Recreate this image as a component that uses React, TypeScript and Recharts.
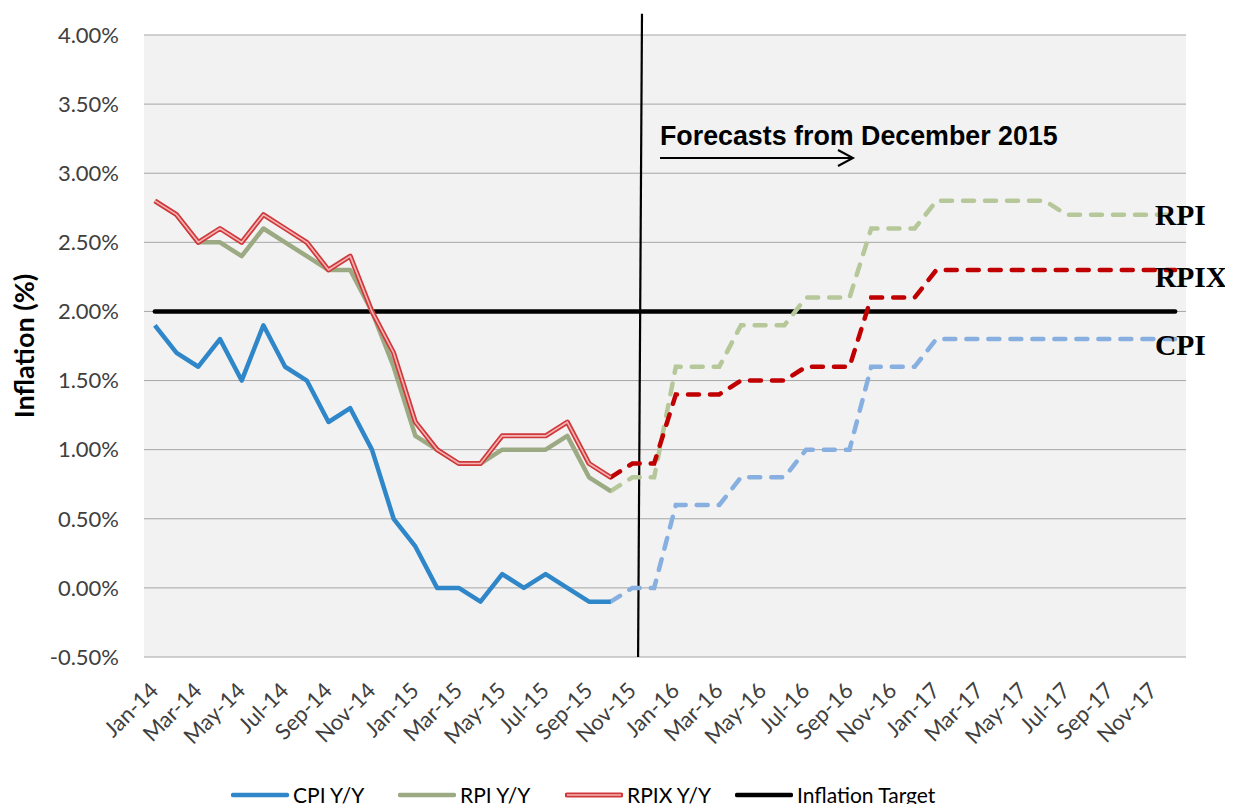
import React from 'react';
import { LineChart, Line, XAxis, YAxis, CartesianGrid, ReferenceLine } from 'recharts';

const monthNames = ['Jan', 'Feb', 'Mar', 'Apr', 'May', 'Jun', 'Jul', 'Aug', 'Sep', 'Oct', 'Nov', 'Dec'];
const years = ['14', '15', '16', '17'];
const months = years.flatMap((y) => monthNames.map((m) => `${m}-${y}`));

// Outturn, Jan-14 to Oct-15
const cpiActual = [1.9, 1.7, 1.6, 1.8, 1.5, 1.9, 1.6, 1.5, 1.2, 1.3, 1.0, 0.5, 0.3, 0.0, 0.0, -0.1, 0.1, 0.0, 0.1, 0.0, -0.1, -0.1];
const rpiActual = [2.8, 2.7, 2.5, 2.5, 2.4, 2.6, 2.5, 2.4, 2.3, 2.3, 2.0, 1.6, 1.1, 1.0, 0.9, 0.9, 1.0, 1.0, 1.0, 1.1, 0.8, 0.7];
const rpixActual = [2.8, 2.7, 2.5, 2.6, 2.5, 2.7, 2.6, 2.5, 2.3, 2.4, 2.0, 1.7, 1.2, 1.0, 0.9, 0.9, 1.1, 1.1, 1.1, 1.2, 0.9, 0.8];

// Forecast path, Oct-15 to Dec-17
const forecastStart = 21;
const cpiForecast = [-0.1, 0.0, 0.0, 0.6, 0.6, 0.6, 0.8, 0.8, 0.8, 1.0, 1.0, 1.0, 1.6, 1.6, 1.6, 1.8, 1.8, 1.8, 1.8, 1.8, 1.8, 1.8, 1.8, 1.8, 1.8, 1.8, 1.8];
const rpiForecast = [0.7, 0.8, 0.8, 1.6, 1.6, 1.6, 1.9, 1.9, 1.9, 2.1, 2.1, 2.1, 2.6, 2.6, 2.6, 2.8, 2.8, 2.8, 2.8, 2.8, 2.8, 2.7, 2.7, 2.7, 2.7, 2.7, 2.7];
const rpixForecast = [0.8, 0.9, 0.9, 1.4, 1.4, 1.4, 1.5, 1.5, 1.5, 1.6, 1.6, 1.6, 2.1, 2.1, 2.1, 2.3, 2.3, 2.3, 2.3, 2.3, 2.3, 2.3, 2.3, 2.3, 2.3, 2.3, 2.3];

const inflationTarget = 2.0;
const yTicks = [-0.5, 0, 0.5, 1, 1.5, 2, 2.5, 3, 3.5, 4];
const xTicks = months.map((_, i) => i).filter((i) => i % 2 === 0);

const pick = (arr: number[], i: number, start = 0) =>
  i >= start && i - start < arr.length ? arr[i - start] : null;

const data = months.map((month, i) => ({
  i,
  month,
  cpi: pick(cpiActual, i),
  rpi: pick(rpiActual, i),
  rpix: pick(rpixActual, i),
  cpiF: pick(cpiForecast, i, forecastStart),
  rpiF: pick(rpiForecast, i, forecastStart),
  rpixF: pick(rpixForecast, i, forecastStart),
}));

const font = 'Lato, "Noto Sans", sans-serif';
const W = 1233;
const H = 812;

const MonthTick = (props: any) => {
  const { x, y, payload } = props;
  return (
    <g transform={`translate(${x + 5},${y + 33})`}>
      <text textAnchor="end" transform="rotate(-45)" fontFamily={font} fontSize={22} fill="#404040">
        {months[payload.value]}
      </text>
    </g>
  );
};

const YLabel = (props: any) => {
  const { viewBox } = props;
  const cx = viewBox.x + 23;
  const cy = viewBox.y + viewBox.height / 2;
  return (
    <text x={cx} y={cy} transform={`rotate(-90 ${cx} ${cy})`} textAnchor="middle" dominantBaseline="central"
      fontFamily={font} fontWeight={700} fontSize={27} fill="#000">
      Inflation (%)
    </text>
  );
};

const legendItems = [
  { label: 'CPI Y/Y', color: '#2f87c9', left: 231, double: false },
  { label: 'RPI Y/Y', color: '#9caa84', left: 398, double: false },
  { label: 'RPIX Y/Y', color: '#d0393b', left: 565, double: true },
  { label: 'Inflation Target', color: '#000000', left: 735, double: false },
];

export default function App() {
  return (
    <div style={{ position: 'relative', width: W, height: H, margin: -8, background: '#fff', overflow: 'hidden' }}>
      <LineChart width={W} height={H} data={data} margin={{ top: 35, right: 47, left: 0, bottom: 55 }}>
        <CartesianGrid vertical={false} stroke="#a6a6a6" fill="#f2f2f2" />
        <XAxis
          dataKey="i"
          type="number"
          domain={[-0.5, 47.5]}
          ticks={xTicks}
          interval={0}
          height={100}
          axisLine={false}
          tickLine={false}
          tickSize={0}
          tick={<MonthTick />}
        />
        <YAxis
          type="number"
          domain={[-0.5, 4]}
          ticks={yTicks}
          width={144}
          axisLine={false}
          tickLine={false}
          tickSize={0}
          tickMargin={25}
          tickFormatter={(v: number) => `${v.toFixed(2)}%`}
          tick={{ fontFamily: font, fontSize: 22, fill: '#404040' }}
          label={<YLabel />}
        />
        <ReferenceLine
          segment={[{ x: 0, y: inflationTarget }, { x: months.length - 1, y: inflationTarget }]}
          stroke="#000"
          strokeWidth={4.5}
          strokeLinecap="round"
        />
        <ReferenceLine
          segment={[{ x: 22.26, y: -0.5 }, { x: 22.44, y: 4.153 }]}
          stroke="#000"
          strokeWidth={2.2}
          ifOverflow="visible"
        />
        <Line dataKey="cpiF" stroke="#87b0e0" strokeWidth={4.5} strokeDasharray="11 11" strokeLinecap="round" dot={false} isAnimationActive={false} />
        <Line dataKey="rpiF" stroke="#b6c89a" strokeWidth={4.5} strokeDasharray="11 11" strokeLinecap="round" dot={false} isAnimationActive={false} />
        <Line dataKey="rpixF" stroke="#c00000" strokeWidth={4.5} strokeDasharray="11 11" strokeLinecap="round" dot={false} isAnimationActive={false} />
        <Line dataKey="cpi" stroke="#2f87c9" strokeWidth={4.5} strokeLinejoin="round" dot={false} isAnimationActive={false} />
        <Line dataKey="rpi" stroke="#9caa84" strokeWidth={4.5} strokeLinejoin="round" dot={false} isAnimationActive={false} />
        <Line dataKey="rpix" stroke="#d0393b" strokeWidth={5} strokeLinejoin="round" dot={false} isAnimationActive={false} />
        <Line dataKey="rpix" stroke="#f4b4b4" strokeWidth={1.6} strokeLinejoin="round" dot={false} isAnimationActive={false} />
      </LineChart>

      <svg width={W} height={H} style={{ position: 'absolute', left: 0, top: 0, pointerEvents: 'none' }}>
        <text x={660} y={145} fontFamily='"Liberation Sans", Arial, sans-serif' fontWeight={700} fontSize={26.8} fill="#000">
          Forecasts from December 2015
        </text>
        <line x1={660} y1={158} x2={852} y2={158} stroke="#000" strokeWidth={2} />
        <polyline points="838,150 853,158 838,166" fill="none" stroke="#000" strokeWidth={2} />
        <g fontFamily='"Liberation Serif", "Times New Roman", serif' fontWeight={700} fontSize={29.5} fill="#000">
          <text x={1155} y={225}>RPI</text>
          <text x={1155} y={287}>RPIX</text>
          <text x={1155} y={355}>CPI</text>
        </g>
      </svg>

      {legendItems.map((it) => (
        <div key={it.label} style={{ position: 'absolute', left: it.left, top: 782, height: 26, lineHeight: '26px', display: 'flex', alignItems: 'center', fontFamily: font, fontSize: 21, color: '#000', whiteSpace: 'nowrap' }}>
          <svg width={58} height={10} style={{ marginRight: 4 }}>
            <line x1={2} y1={5} x2={56} y2={5} stroke={it.color} strokeWidth={it.double ? 5 : 4.5} strokeLinecap="round" />
            {it.double && <line x1={2} y1={5} x2={56} y2={5} stroke="#f4b4b4" strokeWidth={1.6} />}
          </svg>
          <span>{it.label}</span>
        </div>
      ))}
    </div>
  );
}
